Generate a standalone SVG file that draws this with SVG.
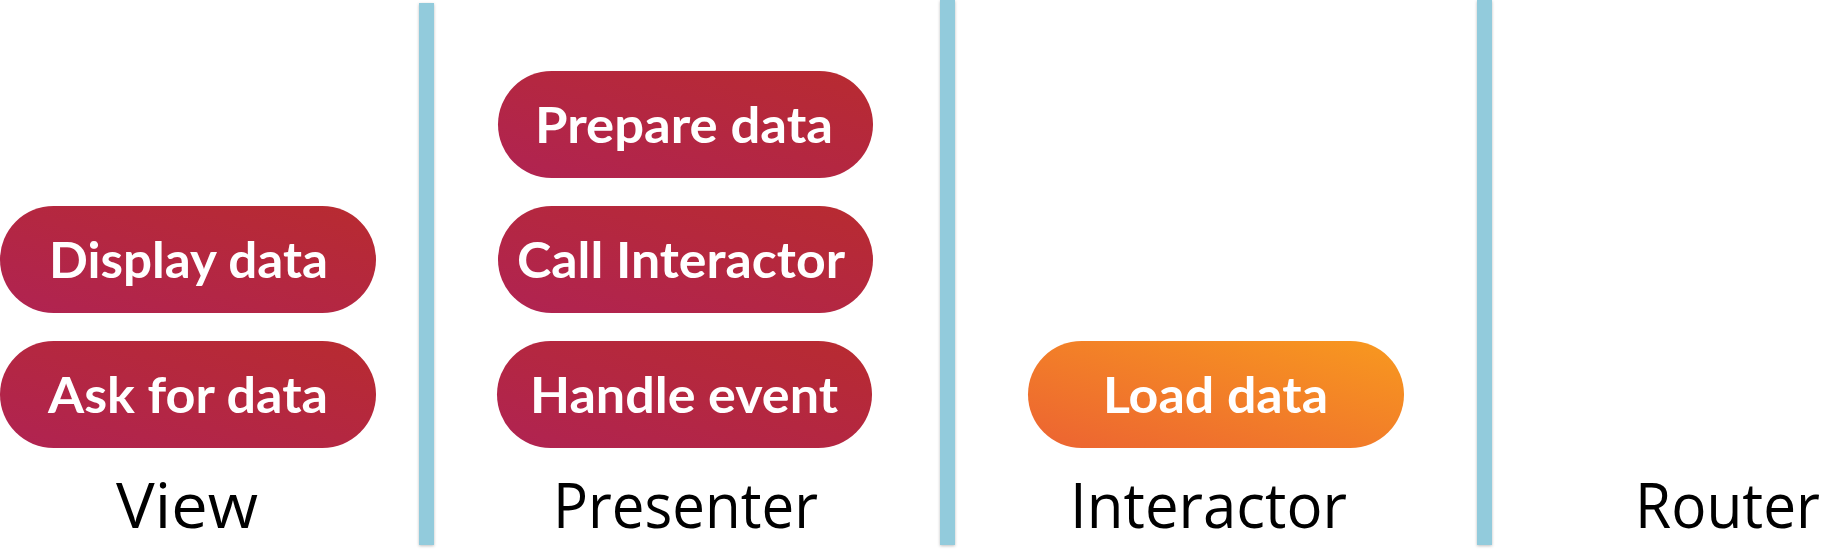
<svg xmlns="http://www.w3.org/2000/svg" width="1828" height="553" viewBox="0 0 1828 553">
  <defs>
    <linearGradient id="gRed" x1="0" y1="1" x2="1" y2="0">
      <stop offset="0" stop-color="#B02352"/>
      <stop offset="1" stop-color="#B82B30"/>
    </linearGradient>
    <linearGradient id="gOrange" x1="0" y1="1" x2="1" y2="0">
      <stop offset="0" stop-color="#EC6332"/>
      <stop offset="1" stop-color="#F8991F"/>
    </linearGradient>
    <filter id="shadow" x="-50%" y="-5%" width="200%" height="110%">
      <feDropShadow dx="0" dy="1" stdDeviation="1.5" flood-color="#000" flood-opacity="0.25"/>
    </filter>
    <style>
      .bar { fill: #92CBDC; filter: url(#shadow); }
      .pill-red { fill: url(#gRed); }
      .pill-orange { fill: url(#gOrange); }
      .ptext { font-family: "Lato", "Open Sans", sans-serif; font-weight: 700; font-size: 49px; fill: #FFFFFF; text-anchor: middle; }
      .label { font-family: "Open Sans", "Noto Sans", sans-serif; font-weight: 400; font-size: 62px; fill: #000000; text-anchor: middle; }
    </style>
  </defs>
  <rect width="1828" height="553" fill="#FFFFFF"/>

  <g id="lanes">
    <rect class="bar" x="419" y="3" width="15" height="542"/>
    <rect class="bar" x="940" y="0" width="15" height="545"/>
    <rect class="bar" x="1477" y="0" width="15" height="545"/>
  </g>

  <g id="connectors"></g>

  <g id="node-display-data">
    <rect class="pill-red" x="0" y="206" width="376" height="107" rx="53.5"/>
    <text class="ptext" x="188.5" y="278" textLength="279" lengthAdjust="spacingAndGlyphs">Display data</text>
  </g>
  <g id="node-ask-for-data">
    <rect class="pill-red" x="0" y="341" width="376" height="107" rx="53.5"/>
    <text class="ptext" x="188" y="413" textLength="280" lengthAdjust="spacingAndGlyphs">Ask for data</text>
  </g>
  <g id="node-prepare-data">
    <rect class="pill-red" x="498" y="71" width="375" height="107" rx="53.5"/>
    <text class="ptext" x="684" y="143" textLength="298" lengthAdjust="spacingAndGlyphs">Prepare data</text>
  </g>
  <g id="node-call-interactor">
    <rect class="pill-red" x="498" y="206" width="375" height="107" rx="53.5"/>
    <text class="ptext" x="681" y="278" textLength="328" lengthAdjust="spacingAndGlyphs">Call Interactor</text>
  </g>
  <g id="node-handle-event">
    <rect class="pill-red" x="497" y="341" width="375" height="107" rx="53.5"/>
    <text class="ptext" x="684" y="413" textLength="308" lengthAdjust="spacingAndGlyphs">Handle event</text>
  </g>
  <g id="node-load-data">
    <rect class="pill-orange" x="1028" y="341" width="376" height="107" rx="53.5"/>
    <text class="ptext" x="1215.5" y="413" textLength="225" lengthAdjust="spacingAndGlyphs">Load data</text>
  </g>

  <g id="labels">
    <text class="label" x="187" y="528" textLength="142" lengthAdjust="spacingAndGlyphs">View</text>
    <text class="label" x="685.5" y="528" textLength="265" lengthAdjust="spacingAndGlyphs">Presenter</text>
    <text class="label" x="1208.5" y="528" textLength="277" lengthAdjust="spacingAndGlyphs">Interactor</text>
    <text class="label" x="1727.5" y="528" textLength="185" lengthAdjust="spacingAndGlyphs">Router</text>
  </g>
</svg>
